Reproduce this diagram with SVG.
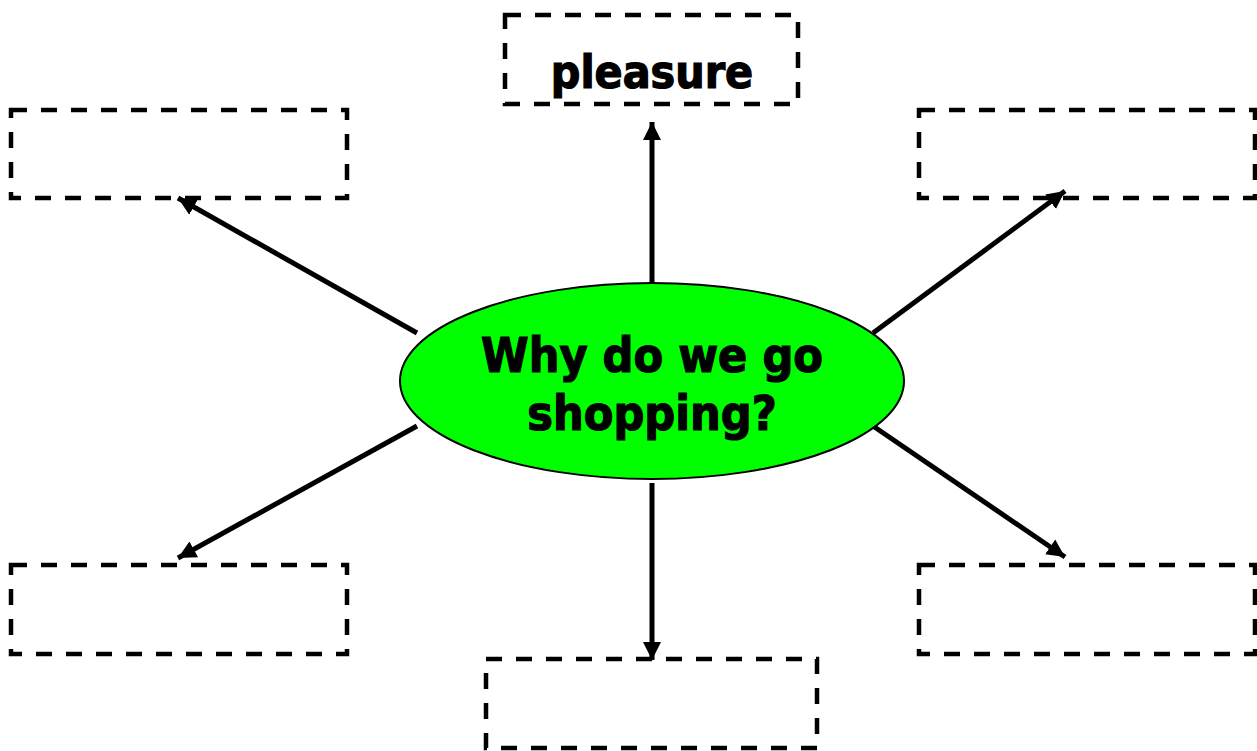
<svg xmlns="http://www.w3.org/2000/svg" width="1257" height="751" viewBox="0 0 1257 751">
<style>
.box{fill:none;stroke:#000;stroke-width:4.5;stroke-dasharray:16 14}
.lbl{font-family:"DejaVu Sans Condensed","DejaVu Sans",sans-serif;font-stretch:condensed;font-weight:bold;fill:#000;stroke:#000;stroke-width:1.2;text-anchor:middle}
.conn{stroke:#000;stroke-width:5;fill:none;marker-end:url(#ah)}
</style>
<defs>
<marker id="ah" markerUnits="userSpaceOnUse" markerWidth="20" markerHeight="20" viewBox="0 0 20 20" refX="18" refY="10" orient="auto">
<path d="M0,1 L18,10 L0,19 Z" fill="#000"/>
</marker>
</defs>
<rect width="1257" height="751" fill="#fff"/>
<g id="connectors">
<line class="conn" x1="652" y1="290" x2="652" y2="122"/>
<line class="conn" x1="652" y1="483" x2="652" y2="660"/>
<line class="conn" x1="417" y1="333" x2="178" y2="198"/>
<line class="conn" x1="873" y1="333" x2="1065" y2="191"/>
<line class="conn" x1="417" y1="426" x2="178" y2="558"/>
<line class="conn" x1="873" y1="426" x2="1065" y2="557"/>
</g>
<g id="center">
<ellipse cx="652" cy="381" rx="252" ry="98" fill="#00ff00" stroke="#000" stroke-width="2"/>
<text class="lbl" x="652" y="372" font-size="48">Why do we go</text>
<text class="lbl" x="652" y="430" font-size="48">shopping?</text>
</g>
<g id="top">
<rect class="box" x="505" y="15" width="293" height="89"/>
<text class="lbl" x="652" y="88" font-size="46">pleasure</text>
</g>
<g id="top-left"><rect class="box" x="11" y="110" width="336" height="88"/></g>
<g id="top-right"><rect class="box" x="919" y="110" width="336" height="88"/></g>
<g id="bottom-left"><rect class="box" x="11" y="565" width="336" height="89"/></g>
<g id="bottom-right"><rect class="box" x="919" y="565" width="336" height="89"/></g>
<g id="bottom"><rect class="box" x="486" y="659" width="331" height="89"/></g>
</svg>
